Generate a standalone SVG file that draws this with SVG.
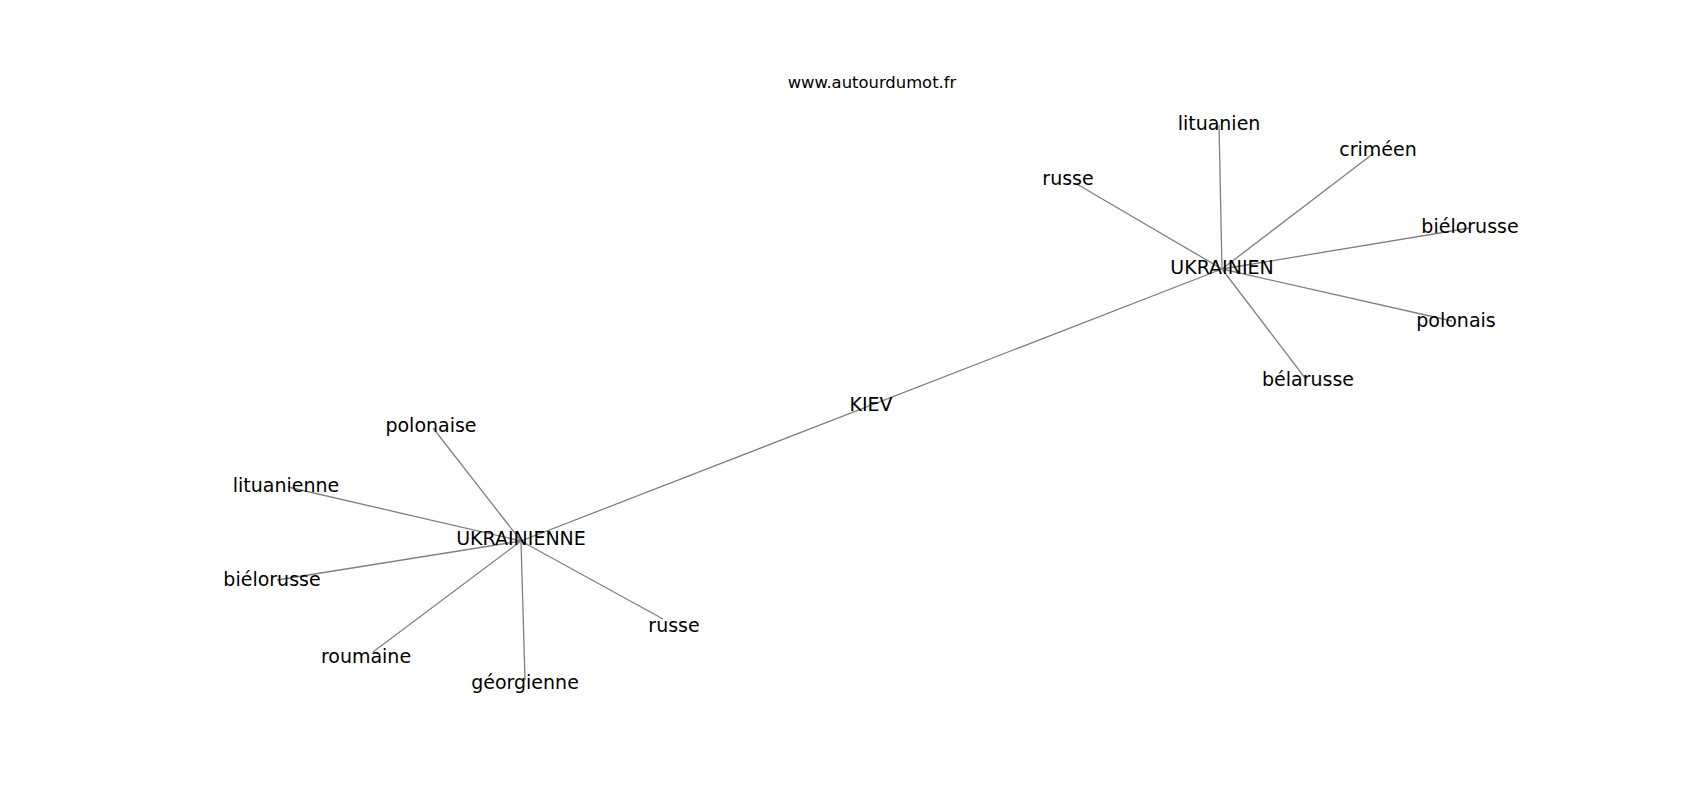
<svg xmlns="http://www.w3.org/2000/svg" width="1700" height="800" viewBox="0 0 1700 800">
<style>
.e{stroke:#808080;stroke-width:1.3;fill:none}
.l{font-family:"DejaVu Sans",sans-serif;font-size:19px;fill:#000;text-anchor:middle}
.t{font-family:"DejaVu Sans",sans-serif;font-size:16.4px;fill:#000;text-anchor:middle}
</style>
<rect width="1700" height="800" fill="#fff"/>
<g id="edges">
<line class="e" x1="521" y1="541" x2="1222" y2="269"/>
<line class="e" x1="1222" y1="269" x2="1219" y2="125"/>
<line class="e" x1="1222" y1="269" x2="1374" y2="153"/>
<line class="e" x1="1222" y1="269" x2="1075" y2="183"/>
<line class="e" x1="1222" y1="269" x2="1470" y2="228"/>
<line class="e" x1="1222" y1="269" x2="1452" y2="321"/>
<line class="e" x1="1222" y1="269" x2="1305" y2="378"/>
<line class="e" x1="521" y1="541" x2="433" y2="428"/>
<line class="e" x1="521" y1="541" x2="288" y2="487"/>
<line class="e" x1="521" y1="541" x2="277" y2="580"/>
<line class="e" x1="521" y1="541" x2="373" y2="652"/>
<line class="e" x1="521" y1="541" x2="525" y2="680"/>
<line class="e" x1="521" y1="541" x2="663" y2="619"/>
</g>
<text class="t" x="872" y="88">www.autourdumot.fr</text>
<g id="kiev"><text class="l" x="871" y="411">KIEV</text></g>
<g id="ukrainien"><text class="l" x="1222" y="274">UKRAINIEN</text></g>
<g id="lituanien"><text class="l" x="1219" y="130">lituanien</text></g>
<g id="crimeen"><text class="l" x="1378" y="156">criméen</text></g>
<g id="russe1"><text class="l" x="1068" y="185">russe</text></g>
<g id="bielorusse1"><text class="l" x="1470" y="233">biélorusse</text></g>
<g id="polonais"><text class="l" x="1456" y="327">polonais</text></g>
<g id="belarusse"><text class="l" x="1308" y="386">bélarusse</text></g>
<g id="ukrainienne"><text class="l" x="521" y="545">UKRAINIENNE</text></g>
<g id="polonaise"><text class="l" x="431" y="432">polonaise</text></g>
<g id="lituanienne"><text class="l" x="286" y="492">lituanienne</text></g>
<g id="bielorusse2"><text class="l" x="272" y="586">biélorusse</text></g>
<g id="roumaine"><text class="l" x="366" y="663">roumaine</text></g>
<g id="georgienne"><text class="l" x="525" y="689">géorgienne</text></g>
<g id="russe2"><text class="l" x="674" y="632">russe</text></g>
</svg>
